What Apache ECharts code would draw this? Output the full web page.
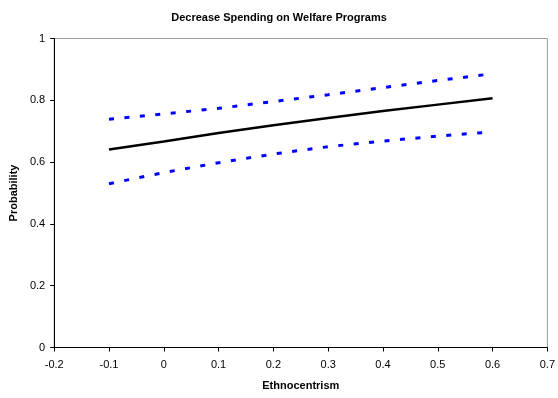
<!DOCTYPE html>
<html>
<head>
<meta charset="utf-8">
<script src="https://cdn.jsdelivr.net/npm/echarts@6/dist/echarts.min.js"></script>
<style>
  html, body { margin: 0; padding: 0; background: #fff; }
  #chart { width: 558px; height: 398px; }
</style>
</head>
<body>
<div id="chart"></div>
<script>
// Predicted probability of favouring decreased welfare spending, with bounds
const ethnocentrism = [-0.1, 0, 0.1, 0.2, 0.3, 0.4, 0.5, 0.6];
const probability   = [0.641, 0.667, 0.694, 0.719, 0.743, 0.765, 0.786, 0.807];
const upperBound    = [0.739, 0.756, 0.774, 0.796, 0.818, 0.841, 0.864, 0.886];
const lowerBound    = [0.530, 0.566, 0.598, 0.626, 0.650, 0.668, 0.684, 0.698];

const pairs = (xs, ys) => xs.map((x, i) => [x, ys[i]]);
const font = 'Liberation Sans, Arial, sans-serif';

const chart = echarts.init(document.getElementById('chart'), null, { renderer: 'canvas' });

chart.setOption({
  animation: false,
  backgroundColor: '#ffffff',
  title: {
    text: 'Decrease Spending on Welfare Programs',
    left: 'center',
    top: 7,
    textStyle: { fontFamily: font, fontSize: 11, fontWeight: 'bold', color: '#000' }
  },
  grid: {
    left: 54, right: 9, top: 38.5, bottom: 50.5,
    show: true, borderColor: '#9a9a9a', borderWidth: 1, backgroundColor: 'transparent'
  },
  xAxis: {
    type: 'value',
    min: -0.2, max: 0.7, interval: 0.1,
    name: 'Ethnocentrism',
    nameLocation: 'middle',
    nameGap: 33,
    nameTextStyle: { fontFamily: font, fontSize: 11, fontWeight: 'bold', color: '#000' },
    axisLine: { show: true, onZero: false, lineStyle: { color: '#000', width: 1 } },
    axisTick: { show: true, inside: false, length: 4, lineStyle: { color: '#000' } },
    axisLabel: {
      fontFamily: font, fontSize: 11, color: '#000', margin: 12,
      formatter: v => String(Math.round(v * 10) / 10)
    },
    splitLine: { show: false }
  },
  yAxis: {
    type: 'value',
    min: 0, max: 1, interval: 0.2,
    name: 'Probability',
    nameLocation: 'middle',
    nameGap: 29,
    nameTextStyle: { fontFamily: font, fontSize: 11, fontWeight: 'bold', color: '#000' },
    axisLine: { show: true, onZero: false, lineStyle: { color: '#000', width: 1 } },
    axisTick: { show: true, inside: false, length: 4, lineStyle: { color: '#000' } },
    axisLabel: {
      fontFamily: font, fontSize: 11, color: '#000', margin: 9,
      formatter: v => String(Math.round(v * 10) / 10)
    },
    splitLine: { show: false }
  },
  series: [
    {
      name: 'Upper bound',
      type: 'line',
      data: pairs(ethnocentrism, upperBound),
      symbol: 'none',
      lineStyle: { color: '#0000ff', width: 3, type: [5, 10.5], cap: 'butt' }
    },
    {
      name: 'Lower bound',
      type: 'line',
      data: pairs(ethnocentrism, lowerBound),
      symbol: 'none',
      lineStyle: { color: '#0000ff', width: 3, type: [5, 10.5], cap: 'butt' }
    },
    {
      name: 'Probability',
      type: 'line',
      data: pairs(ethnocentrism, probability),
      symbol: 'none',
      lineStyle: { color: '#000000', width: 2.5 }
    }
  ]
});
</script>
</body>
</html>
